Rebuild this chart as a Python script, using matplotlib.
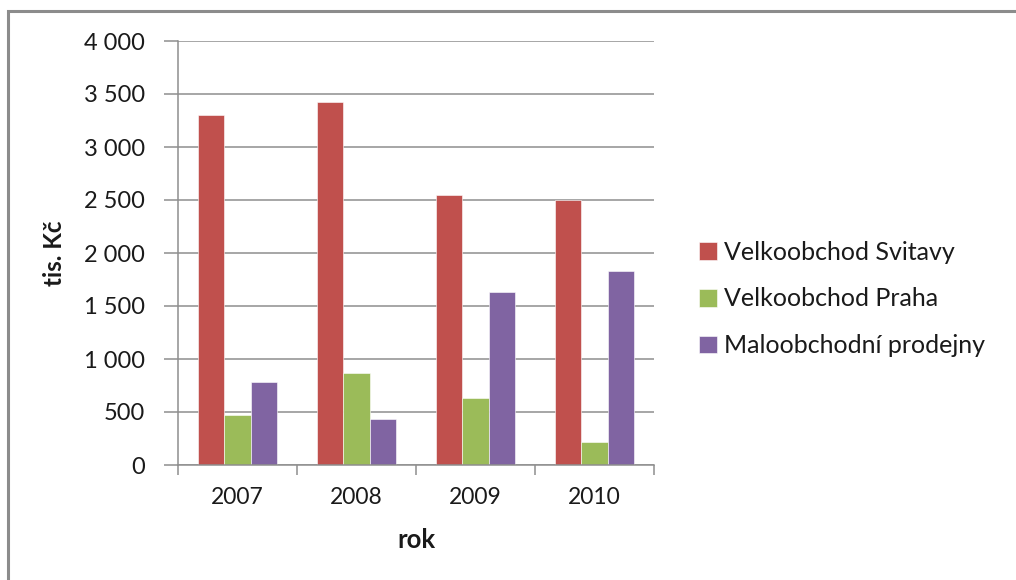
import matplotlib
matplotlib.use("Agg")
import matplotlib.pyplot as plt
from matplotlib.patches import Rectangle
from matplotlib.ticker import FixedLocator, FuncFormatter, NullFormatter
import numpy as np

plt.rcParams['font.family'] = ['Lato', 'DejaVu Sans']

# Data (tis. Kč)
years = ['2007', '2008', '2009', '2010']
series_names = ['Velkoobchod Svitavy', 'Velkoobchod Praha', 'Maloobchodní prodejny']
svitavy = [3300, 3420, 2550, 2500]
praha = [475, 870, 630, 220]
maloobchod = [780, 430, 1635, 1830]
y_ticks = [0, 500, 1000, 1500, 2000, 2500, 3000, 3500, 4000]

colors = ['#C0504D', '#9BBB59', '#8064A2']
grid_color = '#8E8E8E'
text_color = '#1A1A1A'

W, H = 1016, 580
fig = plt.figure(figsize=(W / 100, H / 100), dpi=100)
fig.patch.set_facecolor('white')

# outer chart frame
fig.patches.append(Rectangle((8 / W, -0.05), 1.1, 1 - 11 / H + 0.05,
                             transform=fig.transFigure, fill=False,
                             edgecolor='#8C8C8C', linewidth=2.2))

left, right, top, bottom = 178, 654, 41, 465
ax = fig.add_axes([left / W, 1 - bottom / H, (right - left) / W, (bottom - top) / H])

x = np.arange(len(years))
bw = 1 / 4.5
for k, vals in enumerate([svitavy, praha, maloobchod]):
    ax.bar(x + (k - 1) * bw, vals, width=bw, color=colors[k],
           edgecolor='white', linewidth=0.4, label=series_names[k], zorder=3)

ax.set_xlim(-0.5, len(years) - 0.5)
ax.set_ylim(0, 4000)

# horizontal gridlines
ax.yaxis.set_major_locator(FixedLocator(y_ticks))
ax.yaxis.set_major_formatter(FuncFormatter(lambda v, p: f"{int(v):,}".replace(',', ' ')))
ax.grid(axis='y', color=grid_color, linewidth=1.1, zorder=0)
ax.tick_params(axis='y', direction='out', length=10, width=1.1, color=grid_color,
               labelsize=17, labelcolor=text_color, pad=14)

# category boundary ticks with centred labels
ax.xaxis.set_major_locator(FixedLocator(np.arange(-0.5, len(years), 1.0)))
ax.xaxis.set_major_formatter(NullFormatter())
ax.xaxis.set_minor_locator(FixedLocator(x))
ax.set_xticklabels(years, minor=True)
ax.tick_params(axis='x', which='major', direction='out', length=7, width=1.1, color=grid_color)
ax.tick_params(axis='x', which='minor', length=0, labelsize=16.5, labelcolor=text_color, pad=16)

for side in ['top', 'right']:
    ax.spines[side].set_visible(False)
for side in ['left', 'bottom']:
    ax.spines[side].set_color(grid_color)
    ax.spines[side].set_linewidth(1.1)
    ax.spines[side].set_zorder(4)

fig.text(55 / W, 1 - 253 / H, 'tis. Kč', rotation=90, ha='center', va='center',
         fontsize=17.5, fontweight='bold', color=text_color)
fig.text(416 / W, 1 - 540 / H, 'rok', ha='center', va='center',
         fontsize=18.5, fontweight='bold', color=text_color)

leg = fig.legend(loc='center left', bbox_to_anchor=(699 / W, 1 - 299 / H),
                 frameon=False, fontsize=18, handlelength=0.7, handleheight=0.7,
                 handletextpad=0.3, labelspacing=0.95, borderpad=0, borderaxespad=0)
for t in leg.get_texts():
    t.set_color(text_color)

fig.savefig('out.png', dpi=100, facecolor='white')
